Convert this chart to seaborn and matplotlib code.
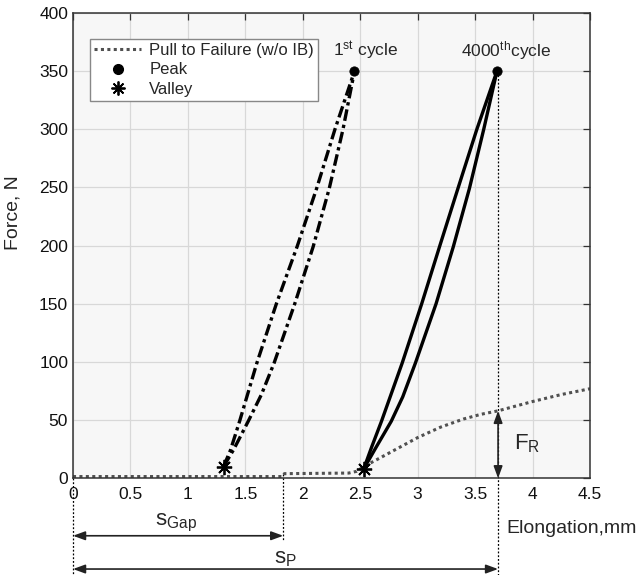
import numpy as np
import pandas as pd
import matplotlib
matplotlib.use("Agg")
import matplotlib.pyplot as plt
import seaborn as sns
from matplotlib.lines import Line2D

# pull to failure (without IB)
pull_x = [0.0, 1.82, 1.84, 2.40, 2.47, 2.53, 2.70, 2.85, 3.00, 3.20, 3.40, 3.55, 3.70, 3.85, 4.00, 4.25, 4.50]
pull_y = [1.5, 1.5, 4.0, 4.5, 6.0, 10.0, 19.0, 27.0, 35.0, 44.0, 51.0, 55.0, 58.0, 62.0, 66.0, 72.0, 77.0]

# 1st cycle, loading and unloading branches
c1_load_x = [1.31, 1.37, 1.45, 1.60, 1.77, 1.95, 2.12, 2.28, 2.45]
c1_load_y = [10, 24, 49, 99, 150, 199, 249, 300, 350]
c1_unload_x = [1.31, 1.40, 1.525, 1.64, 1.75, 1.93, 2.09, 2.23, 2.35, 2.45]
c1_unload_y = [10, 25, 49, 72, 99, 150, 199, 249, 300, 350]

# 4000th cycle
c4_load_x = [2.53, 2.60, 2.685, 2.865, 3.035, 3.19, 3.35, 3.515, 3.69]
c4_load_y = [8, 27, 49, 99, 150, 199, 249, 300, 350]
c4_unload_x = [2.53, 2.64, 2.77, 2.87, 2.98, 3.16, 3.31, 3.45, 3.575, 3.69]
c4_unload_y = [8, 27, 49, 70, 99, 150, 199, 249, 300, 350]

peak_x = [2.45, 3.69]
peak_y = [350, 350]
valley_x = [1.31, 2.53]
valley_y = [10, 8]

S_GAP = 1.83
S_P = 3.70
F_R = 58

x_ticks = [0, 0.5, 1, 1.5, 2, 2.5, 3, 3.5, 4, 4.5]
x_ticklabels = ["0", "0.5", "1", "1.5", "2", "2.5", "3", "3.5", "4", "4.5"]
y_ticks = [0, 50, 100, 150, 200, 250, 300, 350, 400]

sns.set_theme(style="whitegrid")
plt.rcParams["font.family"] = ["Liberation Sans", "DejaVu Sans"]
plt.rcParams["mathtext.fontset"] = "custom"
plt.rcParams["mathtext.rm"] = "Liberation Sans"
plt.rcParams["mathtext.it"] = "Liberation Sans:italic"

fig = plt.figure(figsize=(6.39, 5.75), dpi=100)
ax = fig.add_axes([73 / 639, 1 - 478.3 / 575, 517 / 639, 465.3 / 575])
ax.set_facecolor("#f7f7f7")
ax.grid(True, color="#d8d8d8", linewidth=0.9)

pull_col = "#505050"
sns.lineplot(x=pull_x, y=pull_y, sort=False, estimator=None, ax=ax, color=pull_col,
             linewidth=2.2, linestyle=(0, (1, 1.1)))
for xs, ys in [(c1_load_x, c1_load_y), (c1_unload_x, c1_unload_y)]:
    sns.lineplot(x=xs, y=ys, sort=False, estimator=None, ax=ax, color="black",
                 linewidth=2.4, linestyle=(0, (3.5, 1.2, 1, 1.2)))
for xs, ys in [(c4_load_x, c4_load_y), (c4_unload_x, c4_unload_y)]:
    sns.lineplot(x=xs, y=ys, sort=False, estimator=None, ax=ax, color="black",
                 linewidth=2.4)

sns.scatterplot(x=peak_x, y=peak_y, ax=ax, color="black", s=45, marker="o",
                edgecolor="black", zorder=5)
ax.plot(valley_x, valley_y, linestyle="none", marker=(8, 2, 0), markersize=11,
        markeredgewidth=1.3, color="black", zorder=5)

ax.set_xlim(0, 4.5)
ax.set_ylim(0, 400)
ax.set_xticks(x_ticks)
ax.set_xticklabels(x_ticklabels)
ax.set_yticks(y_ticks)
ax.tick_params(direction="in", length=5, width=0.9, color="#333333", labelsize=12.5,
               top=True, right=True, labelcolor="#111111")
ax.tick_params(axis="x", pad=6)
for sp in ax.spines.values():
    sp.set_color("#333333")
    sp.set_linewidth(1.1)

ax.set_ylabel("Force, N", fontsize=14)
ax.yaxis.set_label_coords(-0.099, 0.57)
ax.set_xlabel("Elongation,mm", fontsize=14)
ax.xaxis.set_label_coords(0.965, -0.09)

# cycle labels
ax.text(2.55, 368, r"1$^{\mathrm{st}}$ cycle", fontsize=12.5, ha="center", va="center")
ax.text(3.77, 368, r"4000$^{\mathrm{th}}$cycle", fontsize=12.5, ha="center", va="center")

# vertical dotted guide lines (extend below the axes)
guide_kw = dict(color="black", linewidth=0.9, linestyle=(0, (1.5, 1.5)), clip_on=False)
ax.plot([0, 0], [0, -83], **guide_kw)
ax.plot([S_GAP, S_GAP], [4, -53], **guide_kw)
ax.plot([S_P, S_P], [350, -83], **guide_kw)

arrow_kw = dict(arrowstyle="<|-|>,head_length=0.6,head_width=0.22", color="#222222",
                lw=1.2, shrinkA=0, shrinkB=0)
ax.annotate("", xy=(S_GAP, -49.4), xytext=(0, -49.4), arrowprops=arrow_kw,
            annotation_clip=False)
ax.annotate("", xy=(S_P, -78), xytext=(0, -78), arrowprops=arrow_kw,
            annotation_clip=False)
ax.annotate("", xy=(S_P, F_R), xytext=(S_P, 0), arrowprops=arrow_kw,
            annotation_clip=False)
ax.text(0.9, -38, r"s$_{\mathrm{Gap}}$", fontsize=16, ha="center", va="center")
ax.text(1.85, -69, r"s$_{\mathrm{P}}$", fontsize=16, ha="center", va="center")
ax.text(3.95, 30, r"F$_{\mathrm{R}}$", fontsize=16, ha="center", va="center")

handles = [
    Line2D([], [], color=pull_col, linewidth=2.2, linestyle=(0, (1, 1.1))),
    Line2D([], [], color="black", marker="o", linestyle="none", markersize=7),
    Line2D([], [], color="black", marker=(8, 2, 0), linestyle="none", markersize=10,
           markeredgewidth=1.3),
]
labels = ["Pull to Failure (w/o IB)", "Peak", "Valley"]
leg = ax.legend(handles, labels, loc="upper left", bbox_to_anchor=(0.033, 0.944),
                borderaxespad=0, fontsize=12, frameon=True, fancybox=False,
                framealpha=1, edgecolor="#888888", handlelength=2.8,
                handletextpad=0.5, labelspacing=0.25, borderpad=0.25)
leg.get_frame().set_linewidth(1.0)

fig.savefig("out.png", dpi=100)
